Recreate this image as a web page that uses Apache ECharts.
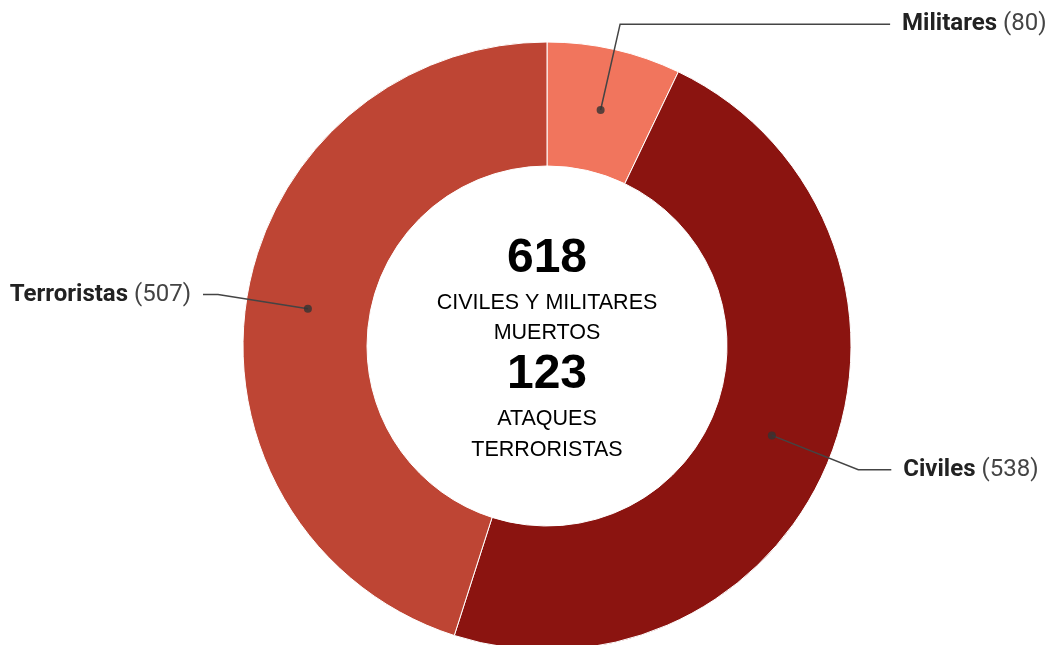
<!DOCTYPE html>
<html>
<head>
<meta charset="utf-8">
<script src="https://cdn.jsdelivr.net/npm/echarts@6/dist/echarts.min.js"></script>
<style>html,body{margin:0;padding:0;background:#fff;}#c{width:1048px;height:645px;}</style>
</head>
<body>
<div id="c"></div>
<script>
const categories = ['Militares', 'Civiles', 'Terroristas'];
const values = [80, 538, 507];
const colors = ['#f1755d', '#8b1410', '#be4534'];
const centerLines = ['618', 'CIVILES Y MILITARES', 'MUERTOS', '123', 'ATAQUES', 'TERRORISTAS'];

const cx = 547, cy = 346, inner = 180, outer = 304;
const mid = (inner + outer) / 2;
const lineLen = [88, 93, 91];
const lineLen2 = [270, 33, 15];

const total = values.reduce((a, b) => a + b, 0);
let acc = 0;
const dots = values.map(v => { const m = acc + v / 2; acc += v; return [mid, m]; });

const chart = echarts.init(document.getElementById('c'));
const font = 'Roboto, "Liberation Sans", sans-serif';
const cFont = '"Liberation Sans", Arial, sans-serif';
const lineY = [259, 303, 333, 375, 419, 450];

chart.setOption({
  animation: false,
  polar: { center: [cx, cy], radius: outer },
  angleAxis: { type: 'value', min: 0, max: total, startAngle: 90, clockwise: true, show: false },
  radiusAxis: { type: 'value', min: 0, max: outer, show: false },
  graphic: centerLines.map((t, i) => ({
    type: 'text', x: cx, y: lineY[i],
    style: {
      text: t,
      align: 'center',
      verticalAlign: 'middle',
      font: (i === 0 || i === 3) ? 'bold 48px ' + cFont : '21.5px ' + cFont,
      fill: '#000'
    },
    z: 10
  })),
  series: [
    {
      type: 'pie',
      center: [cx, cy],
      radius: [inner, outer],
      startAngle: 90,
      clockwise: true,
      silent: true,
      label: { show: false },
      labelLine: { show: false },
      itemStyle: { borderColor: '#ffffff', borderWidth: 1 },
      emphasis: { disabled: true },
      data: categories.map((n, i) => ({ name: n, value: values[i], itemStyle: { color: colors[i] } })),
      z: 1
    },
    {
      type: 'pie',
      center: [cx, cy],
      radius: [0, mid],
      startAngle: 90,
      clockwise: true,
      silent: true,
      avoidLabelOverlap: false,
      itemStyle: { color: 'rgba(0,0,0,0)' },
      emphasis: { disabled: true },
      label: {
        show: true,
        position: 'outside',
        distanceToLabelLine: 12,
        formatter: p => '{b|' + p.name + '}{v| (' + p.value + ')}',
        rich: {
          b: { fontFamily: font, fontWeight: 'bold', fontSize: 24, color: '#222' },
          v: { fontFamily: font, fontSize: 24, color: '#444' }
        }
      },
      labelLine: { show: true, lineStyle: { color: '#444', width: 1.5 } },
      data: categories.map((n, i) => ({
        name: n, value: values[i],
        labelLine: { length: lineLen[i], length2: lineLen2[i] }
      })),
      z: 3
    },
    {
      type: 'scatter',
      coordinateSystem: 'polar',
      symbolSize: 8,
      silent: true,
      itemStyle: { color: '#333' },
      data: dots,
      z: 4
    }
  ]
});
</script>
</body>
</html>
